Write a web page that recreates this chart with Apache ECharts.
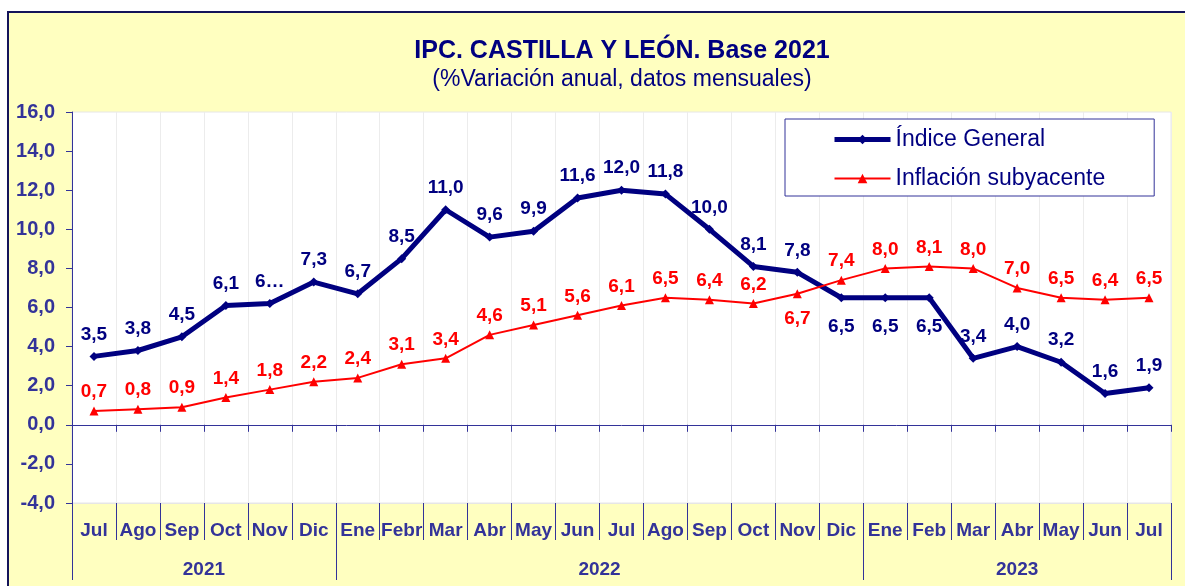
<!DOCTYPE html>
<html>
<head>
<meta charset="utf-8">
<script src="https://cdn.jsdelivr.net/npm/echarts@6/dist/echarts.min.js"></script>
<style>
  html, body { margin: 0; padding: 0; background: #fff; }
  #chart { width: 1185px; height: 586px; }
</style>
</head>
<body>
<div id="chart"></div>
<script>
// datos del gráfico
const months = ['Jul', 'Ago', 'Sep', 'Oct', 'Nov', 'Dic', 'Ene', 'Febr', 'Mar', 'Abr', 'May', 'Jun', 'Jul',
  'Ago', 'Sep', 'Oct', 'Nov', 'Dic', 'Ene', 'Feb', 'Mar', 'Abr', 'May', 'Jun', 'Jul'];
const years = ['2021', '2022', '2023'];
const yearSpans = [6, 12, 7];
const indiceGeneral = [3.5, 3.8, 4.5, 6.1, 6.2, 7.3, 6.7, 8.5, 11.0, 9.6, 9.9, 11.6, 12.0,
  11.8, 10.0, 8.1, 7.8, 6.5, 6.5, 6.5, 3.4, 4.0, 3.2, 1.6, 1.9];
const subyacente = [0.7, 0.8, 0.9, 1.4, 1.8, 2.2, 2.4, 3.1, 3.4, 4.6, 5.1, 5.6, 6.1,
  6.5, 6.4, 6.2, 6.7, 7.4, 8.0, 8.1, 8.0, 7.0, 6.5, 6.4, 6.5];
const yTicks = [-4, 16, 2]; // min, max, intervalo

const navyBelow = [17, 18, 19];
const redBelow = [16];
const navyCut = { 4: '6…' };

const FONT = "'Liberation Sans', Arial, sans-serif";
const NAVY = '#000080';
const AXIS = '#333399';
const fmt = v => v.toFixed(1).replace('.', ',');

// eje de años: medio-meses, para poder centrar las etiquetas entre meses
const half = [];
for (let i = 0; i <= months.length * 2; i++) half.push('');
const yearBounds = [0];
let acc = 0;
years.forEach((y, k) => {
  half[acc * 2 + yearSpans[k]] = y;
  acc += yearSpans[k];
  yearBounds.push(acc * 2);
});

let myChart = echarts.init(document.getElementById('chart'));
let option = {
  animation: false,
  backgroundColor: '#FFFFC0',
  textStyle: { fontFamily: FONT },
  title: {
    text: 'IPC. CASTILLA Y LEÓN. Base 2021',
    subtext: '(%Variación anual, datos mensuales)',
    left: 617,
    top: 34,
    textAlign: 'center',
    itemGap: 4,
    textStyle: { color: NAVY, fontSize: 25, fontWeight: 'bold', fontFamily: FONT },
    subtextStyle: { color: NAVY, fontSize: 23, fontFamily: FONT }
  },
  legend: {
    orient: 'vertical',
    left: 785,
    top: 119,
    padding: [9, 49, 6, 47],
    itemGap: 16,
    itemWidth: 56,
    itemHeight: 12,
    backgroundColor: '#fff',
    borderColor: AXIS,
    borderWidth: 1,
    textStyle: { color: NAVY, fontSize: 23, fontFamily: FONT },
    data: [
      { name: 'Índice General', lineStyle: { width: 5 } },
      { name: 'Inflación subyacente', lineStyle: { width: 2 } }
    ]
  },
  grid: {
    left: 72, right: 14, top: 112, bottom: 83,
    show: true,
    backgroundColor: '#fff',
    borderColor: '#e6e6e6',
    borderWidth: 1
  },
  graphic: [
    { type: 'rect', shape: { x: 0, y: 0, width: 1185, height: 11 }, style: { fill: '#fff' }, silent: true },
    { type: 'rect', shape: { x: 0, y: 0, width: 7, height: 586 }, style: { fill: '#fff' }, silent: true },
    { type: 'polyline', shape: { points: [[8, 586], [8, 12], [1185, 12]] }, style: { stroke: '#14145a', lineWidth: 2, fill: null }, silent: true }
  ],
  xAxis: [
    {
      // linea en el cero
      type: 'category',
      data: months,
      boundaryGap: true,
      axisLine: { onZero: true, lineStyle: { color: AXIS, width: 1 } },
      axisTick: { show: true, interval: 0, length: 7, lineStyle: { color: AXIS } },
      axisLabel: { show: false },
      splitLine: { show: true, interval: 0, lineStyle: { color: '#ececec', width: 1 } }
    },
    {
      type: 'category',
      data: months,
      position: 'bottom',
      boundaryGap: true,
      axisLine: { onZero: false, show: true, lineStyle: { color: '#e6e6e6' } },
      axisTick: { show: true, interval: 0, length: 37, lineStyle: { color: AXIS } },
      axisLabel: { interval: 0, margin: 18, color: AXIS, fontSize: 19, fontWeight: 'bold', fontFamily: FONT },
      splitLine: { show: false }
    },
    {
      type: 'category',
      data: half,
      position: 'bottom',
      offset: 37,
      boundaryGap: false,
      axisLine: { onZero: false, show: false },
      axisTick: {
        show: true, length: 40, lineStyle: { color: AXIS },
        interval: (i) => yearBounds.indexOf(i) >= 0
      },
      axisLabel: {
        margin: 20, color: AXIS, fontSize: 19, fontWeight: 'bold', fontFamily: FONT,
        interval: (i, v) => v !== ''
      },
      splitLine: { show: false }
    }
  ],
  yAxis: {
    type: 'value',
    min: yTicks[0],
    max: yTicks[1],
    interval: yTicks[2],
    axisLine: { show: true, lineStyle: { color: AXIS } },
    axisTick: { show: true, length: 6, lineStyle: { color: AXIS } },
    axisLabel: { margin: 17, color: AXIS, fontSize: 20, fontWeight: 'bold', fontFamily: FONT, formatter: v => fmt(v) },
    splitLine: { show: false }
  },
  series: [
    {
      name: 'Índice General',
      type: 'line',
      xAxisIndex: 0,
      data: indiceGeneral.map((v, i) => {
        const item = { value: v };
        if (navyBelow.indexOf(i) >= 0) item.label = { position: 'bottom', distance: 15 };
        if (navyCut[i]) item.label = { formatter: navyCut[i] };
        return item;
      }),
      symbol: 'diamond',
      symbolSize: 9,
      color: NAVY,
      lineStyle: { color: NAVY, width: 5 },
      itemStyle: { color: NAVY },
      z: 3,
      label: {
        show: true, position: 'top', distance: 8,
        color: NAVY, fontSize: 19, fontWeight: 'bold', fontFamily: FONT,
        formatter: p => fmt(p.value)
      }
    },
    {
      name: 'Inflación subyacente',
      type: 'line',
      xAxisIndex: 0,
      data: subyacente.map((v, i) => {
        const item = { value: v };
        if (redBelow.indexOf(i) >= 0) item.label = { position: 'bottom', distance: 11 };
        return item;
      }),
      symbol: 'triangle',
      symbolSize: 9,
      color: '#ff0000',
      lineStyle: { color: '#ff0000', width: 2 },
      itemStyle: { color: '#ff0000' },
      z: 4,
      label: {
        show: true, position: 'top', distance: 5,
        color: '#ff0000', fontSize: 19, fontWeight: 'bold', fontFamily: FONT,
        formatter: p => fmt(p.value)
      }
    }
  ]
};
myChart.setOption(option);
</script>
</body>
</html>
